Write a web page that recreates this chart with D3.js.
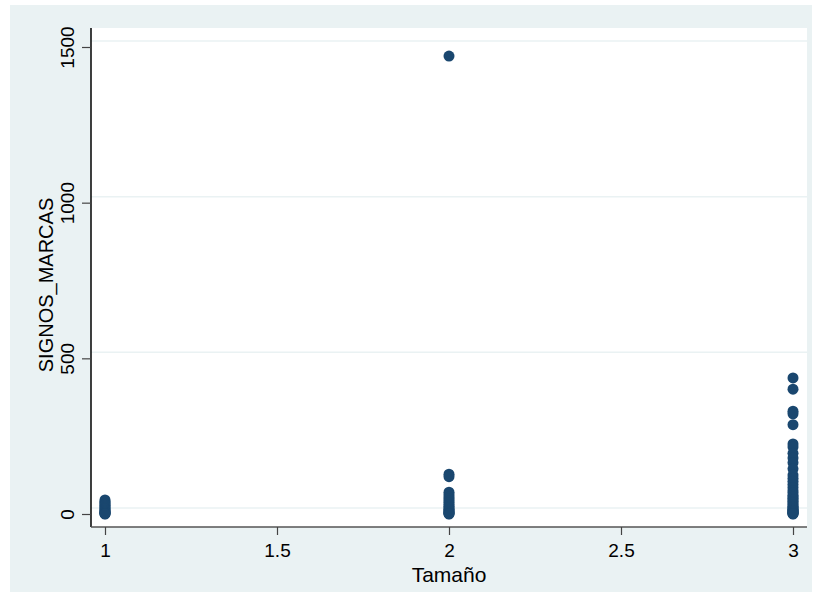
<!DOCTYPE html>
<html><head><meta charset="utf-8">
<script src="https://cdn.jsdelivr.net/npm/d3@7"></script>
<style>body{margin:0;background:#fff}svg{display:block}text{font-family:"Liberation Sans",Arial,sans-serif;fill:#000}</style>
</head><body><svg id="c" width="814" height="597"></svg>
<script>
const xTicks = [1, 1.5, 2, 2.5, 3];
const yTicks = [0, 500, 1000, 1500];
const xTitle = "Tamaño";
const yTitle = "SIGNOS_MARCAS";
const tam1 = [45, 40, 36, 32, 28, 24, 20, 16, 12, 9, 6, 4, 2, 1, 0];
const tam2 = [1471, 128, 120, 70, 62, 55, 48, 42, 36, 30, 25, 20, 15, 12, 8, 5, 3, 1, 0];
const tam3 = [437, 401, 330, 322, 287, 225, 215, 195, 180, 165, 145, 125, 115, 105, 95, 85, 75, 68, 60, 55, 50, 45, 40, 35, 30, 25, 22, 18, 15, 12, 10, 8, 6, 4, 2, 1, 0];

const points = [];
[[1, tam1], [2, tam2], [3, tam3]].forEach(([t, arr]) => arr.forEach(v => points.push({x: t, y: v})));

const svg = d3.select("#c");
svg.append("rect").attr("x", 10).attr("y", 5).attr("width", 802).attr("height", 587).attr("fill", "#eaf2f3");
const L = 91, R = 807, T = 28, B = 527;
svg.append("rect").attr("x", L).attr("y", T).attr("width", R - L).attr("height", B - T).attr("fill", "#fff");

const x = d3.scaleLinear().domain([1, 3]).range([105, 793]);
const y = d3.scaleLinear().domain([0, 1500]).range([514, 47]);

// gridlines
svg.append("g").selectAll("line").data(yTicks).join("line")
  .attr("x1", L).attr("x2", R)
  .attr("y1", d => y(d) - 6).attr("y2", d => y(d) - 6)
  .attr("stroke", "#eaf2f3").attr("stroke-width", 1.5);

// y axis
const ya = svg.append("g").attr("transform", `translate(${L},0)`)
  .call(d3.axisLeft(y).tickValues(yTicks).tickSize(9).tickPadding(0).tickFormat(d3.format("d")));
ya.select(".domain").attr("d", `M0,${T}V${B}`).attr("stroke", "#000").attr("stroke-width", 1.5);
ya.selectAll(".tick line").attr("stroke", "#444").attr("stroke-width", 1.2);
ya.selectAll(".tick text").attr("font-size", 19).attr("font-family", "Liberation Sans, Arial, sans-serif")
  .attr("fill", "#000").attr("text-anchor", "middle")
  .attr("transform", "rotate(-90)").attr("x", 0).attr("y", -17).attr("dy", 0);

// x axis
const xa = svg.append("g").attr("transform", `translate(0,${B})`)
  .call(d3.axisBottom(x).tickValues(xTicks).tickSize(8).tickPadding(0).tickFormat(d => String(d)));
xa.select(".domain").attr("d", `M${L},0H${R}`).attr("stroke", "#555").attr("stroke-width", 1.5);
xa.selectAll(".tick line").attr("stroke", "#444").attr("stroke-width", 1.2);
xa.selectAll(".tick text").attr("font-size", 19).attr("font-family", "Liberation Sans, Arial, sans-serif")
  .attr("fill", "#000").attr("y", 30).attr("dy", 0);

// titles
svg.append("text").attr("x", 449).attr("y", 582).attr("text-anchor", "middle").attr("font-size", 21).text(xTitle);
svg.append("text").attr("transform", `translate(53,285) rotate(-90)`).attr("text-anchor", "middle").attr("font-size", 20).text(yTitle);

// points
svg.append("g").selectAll("circle").data(points).join("circle")
  .attr("cx", d => x(d.x)).attr("cy", d => y(d.y)).attr("r", 5.5).attr("fill", "#1a476f");
</script></body></html>
